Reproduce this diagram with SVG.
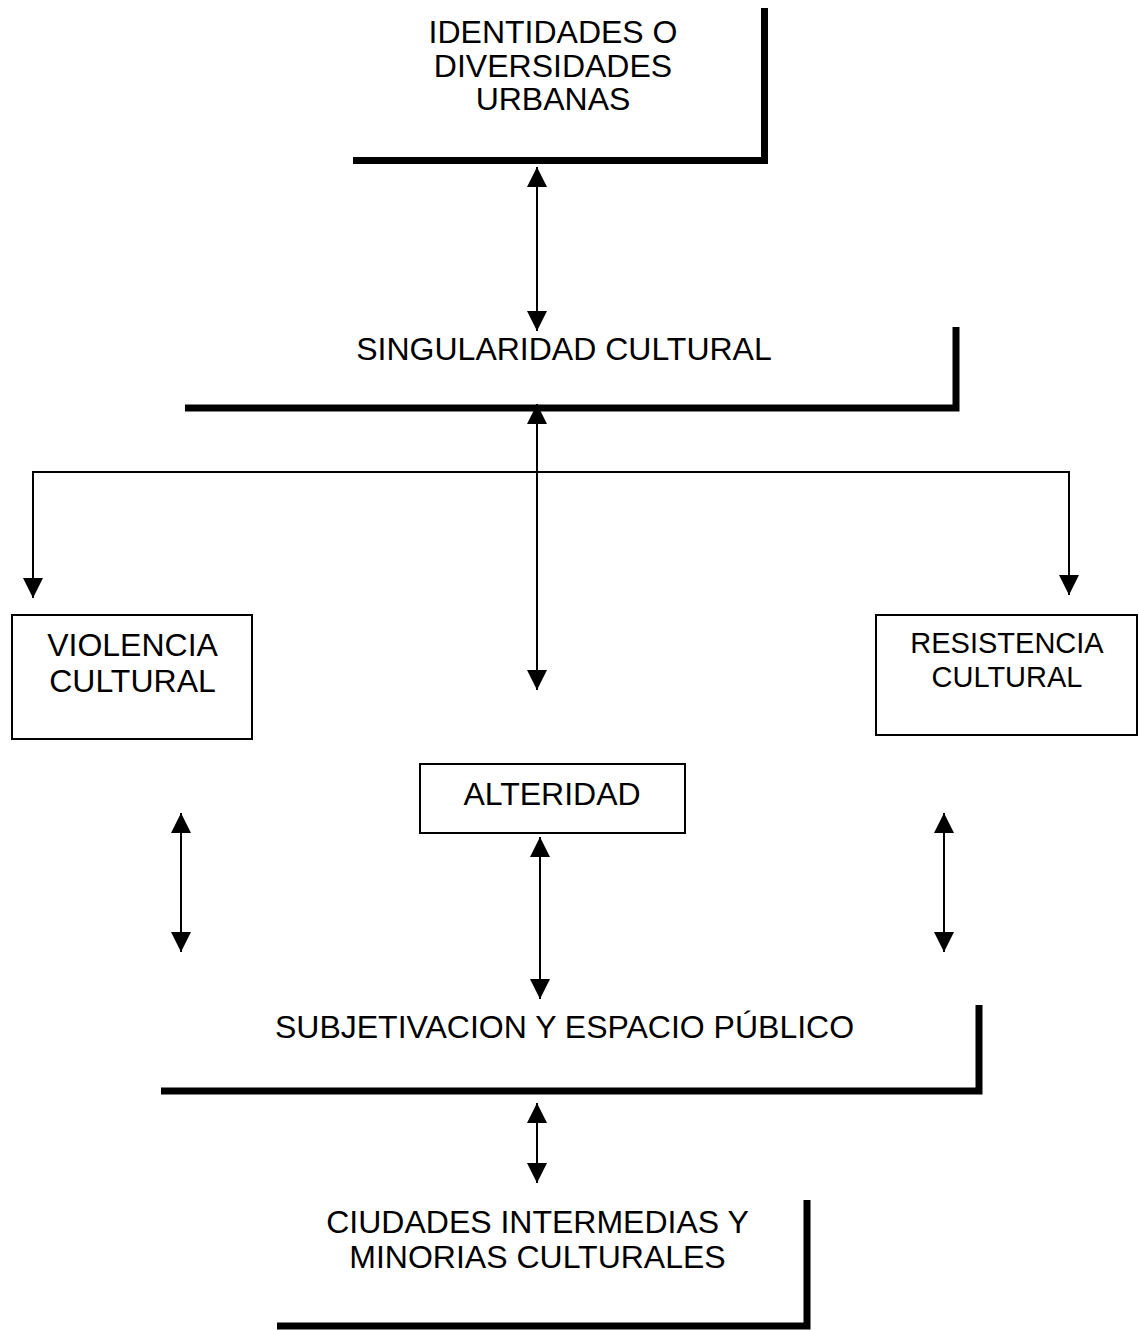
<svg xmlns="http://www.w3.org/2000/svg" width="1139" height="1330" viewBox="0 0 1139 1330">
<style>
text{font-family:"Liberation Sans",Arial,sans-serif;font-size:32px;fill:#000;text-anchor:middle}
.thick{fill:none;stroke:#000;stroke-width:7;stroke-linejoin:miter}
.box{fill:#fff;stroke:#000;stroke-width:2}
.c{fill:none;stroke:#000;stroke-width:2}
</style>
<defs>
<marker id="ah" viewBox="0 0 20 20" refX="20" refY="10" markerWidth="20" markerHeight="20" markerUnits="userSpaceOnUse" orient="auto-start-reverse">
<path d="M0,0 L20,10 L0,20 z" fill="#000"/>
</marker>
</defs>
<rect width="1139" height="1330" fill="#fff"/>
<g id="identidades">
<polyline class="thick" points="353,160.5 764.5,160.5 764.5,8"/>
<text x="553" y="43">IDENTIDADES O</text>
<text x="553" y="77">DIVERSIDADES</text>
<text x="553" y="110">URBANAS</text>
</g>
<g id="singularidad">
<polyline class="thick" points="185,408 956,408 956,327"/>
<text x="564" y="360">SINGULARIDAD CULTURAL</text>
</g>
<g id="violencia">
<rect class="box" x="12" y="615" width="240" height="124"/>
<text x="132.5" y="656">VIOLENCIA</text>
<text x="132.5" y="692">CULTURAL</text>
</g>
<g id="resistencia">
<rect class="box" x="876" y="615" width="261" height="120"/>
<text x="1007" y="653" style="font-size:29px">RESISTENCIA</text>
<text x="1007" y="687" style="font-size:29px">CULTURAL</text>
</g>
<g id="alteridad">
<rect class="box" x="420" y="764" width="265" height="69"/>
<text x="552" y="805">ALTERIDAD</text>
</g>
<g id="subjetivacion">
<polyline class="thick" points="161,1091 979,1091 979,1005"/>
<text x="564.5" y="1038">SUBJETIVACION Y ESPACIO PÚBLICO</text>
</g>
<g id="ciudades">
<polyline class="thick" points="277,1326 807,1326 807,1200"/>
<text x="537.5" y="1233">CIUDADES INTERMEDIAS Y</text>
<text x="537.5" y="1268">MINORIAS CULTURALES</text>
</g>
<g id="connectors">
<line class="c" x1="537" y1="167" x2="537" y2="331" marker-start="url(#ah)" marker-end="url(#ah)"/>
<line class="c" x1="537" y1="404" x2="537" y2="690" marker-start="url(#ah)" marker-end="url(#ah)"/>
<polyline class="c" points="33,598 33,472 1069,472 1069,595" marker-start="url(#ah)" marker-end="url(#ah)"/>
<line class="c" x1="181" y1="813" x2="181" y2="952" marker-start="url(#ah)" marker-end="url(#ah)"/>
<line class="c" x1="540" y1="837" x2="540" y2="999" marker-start="url(#ah)" marker-end="url(#ah)"/>
<line class="c" x1="944" y1="813" x2="944" y2="952" marker-start="url(#ah)" marker-end="url(#ah)"/>
<line class="c" x1="537" y1="1103" x2="537" y2="1183" marker-start="url(#ah)" marker-end="url(#ah)"/>
</g>
</svg>
